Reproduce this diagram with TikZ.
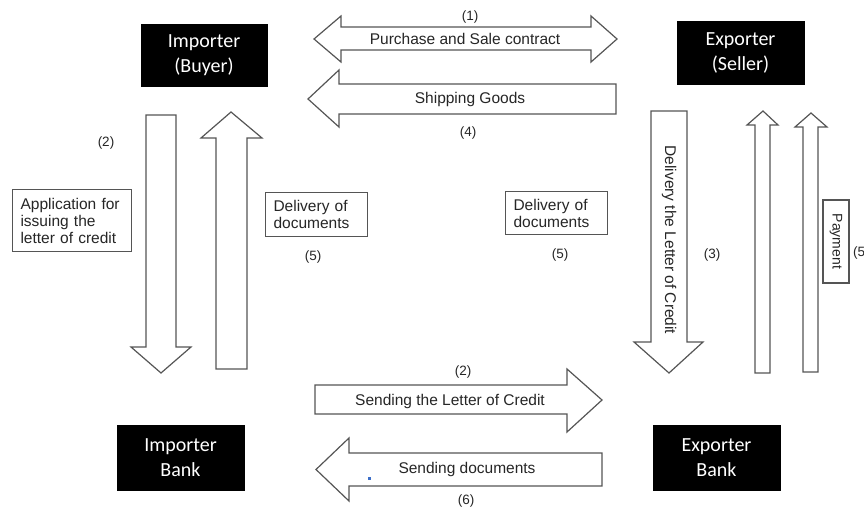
\documentclass[tikz,border=0pt]{standalone}
\usepackage{fontspec}
\setmainfont{Liberation Sans}
\newfontfamily\partyfont{Carlito}
\definecolor{arrowgray}{RGB}{85,85,85}
\definecolor{inkgray}{RGB}{38,38,38}
\definecolor{markblue}{RGB}{60,110,200}
\begin{document}
\begin{tikzpicture}[x=1pt,y=-1pt,
  party/.style={fill=black, draw=black, text=white, align=center, inner sep=0pt,
    font=\partyfont\fontsize{20}{25}\selectfont},
  blockarrow/.style={draw=arrowgray, line width=1.2pt, fill=white, line join=miter},
  flowtext/.style={text=inkgray, font=\fontsize{15.5}{17}\selectfont, inner sep=0pt},
  stepno/.style={text=inkgray, font=\fontsize{13.5}{16}\selectfont, inner sep=0pt},
  notebox/.style={draw=arrowgray, line width=1.1pt, fill=white, align=left, anchor=north west,
    text=inkgray, font=\fontsize{15.5}{17}\selectfont, inner xsep=8pt, inner ysep=0pt}
]
\useasboundingbox[fill=white] (0,0) rectangle (864,508);

% parties
\node[party, minimum width=126, minimum height=62] (importer) at (204,55) {Importer\\(Buyer)};
\node[party, minimum width=127, minimum height=63] (exporter) at (740.5,52.5) {Exporter\\(Seller)};
\node[party, minimum width=127, minimum height=65] (impbank) at (180.5,457.5) {Importer\\Bank};
\node[party, minimum width=127, minimum height=65] (expbank) at (716.5,457.5) {Exporter\\Bank};

% (1) contract, double-headed
\draw[blockarrow] (314,39) -- (341,16) -- (341,27) -- (591,27) -- (591,16) -- (617,39)
  -- (591,62) -- (591,50) -- (341,50) -- (341,62) -- cycle;
\node[flowtext] (contract) at (465,39) {Purchase and Sale contract};
\node[stepno] (n1) at (470,17) {(1)};

% (4) goods
\draw[blockarrow] (308,99) -- (339,70) -- (339,84) -- (616,84) -- (616,114) -- (339,114)
  -- (339,127) -- cycle;
\node[flowtext] (goods) at (470,99) {Shipping Goods};
\node[stepno] (n4) at (468,133) {(4)};

% importer side verticals
\draw[blockarrow] (146,115) -- (176,115) -- (176,347) -- (191,347) -- (161,373) -- (131,347)
  -- (146,347) -- cycle;
\draw[blockarrow] (216,369) -- (247,369) -- (247,138) -- (262,138) -- (231,112) -- (201,138)
  -- (216,138) -- cycle;
\node[stepno] (n2a) at (106,143) {(2)};
\node[notebox, text width=103, minimum height=62] (apply) at (12,189)
  {Application for\\issuing the\\letter of credit};
\node[notebox, text width=86, minimum height=44] (docsl) at (265,192) {Delivery of\\documents};
\node[stepno] (n5a) at (313,257) {(5)};

% middle note
\node[notebox, text width=86, minimum height=43] (docsm) at (505,191) {Delivery of\\documents};
\node[stepno] (n5b) at (560,255) {(5)};

% exporter side verticals
\draw[blockarrow] (651,111) -- (687,111) -- (687,342) -- (703,342) -- (669,373) -- (634,342)
  -- (651,342) -- cycle;
\node[flowtext, rotate=-90] (credit) at (669,240) {Delivery the Letter of Credit};
\node[stepno] (n3) at (712,255) {(3)};
\draw[blockarrow] (755,373) -- (770,373) -- (770,125) -- (778,125) -- (763,111) -- (747,125)
  -- (755,125) -- cycle;
\draw[blockarrow] (803,372) -- (818,372) -- (818,127) -- (827,127) -- (811,113) -- (795,127)
  -- (803,127) -- cycle;
\node[draw=arrowgray, line width=1.1pt, fill=white, minimum width=26, minimum height=83,
  inner sep=0pt] (paybox) at (836,241.5) {};
\node[stepno, font=\fontsize{14}{16}\selectfont, rotate=-90] (payment) at (paybox.center) {Payment};
\node[stepno, anchor=west] (n5c) at (853,253) {(5)};

% banks
\draw[blockarrow] (315,385) -- (567,385) -- (567,369) -- (602,400) -- (567,432) -- (567,414)
  -- (315,414) -- cycle;
\node[flowtext] (sendlc) at (450,401) {Sending the Letter of Credit};
\node[stepno] (n2b) at (463,372) {(2)};
\draw[blockarrow] (316,469.5) -- (349,438) -- (349,453) -- (602,453) -- (602,486) -- (349,486)
  -- (349,501) -- cycle;
\node[flowtext] (senddocs) at (467,469) {Sending documents};
\node[stepno] (n6) at (466,501) {(6)};
\fill[markblue] (367.5,477) rectangle (370.5,479.5);
\end{tikzpicture}
\end{document}
